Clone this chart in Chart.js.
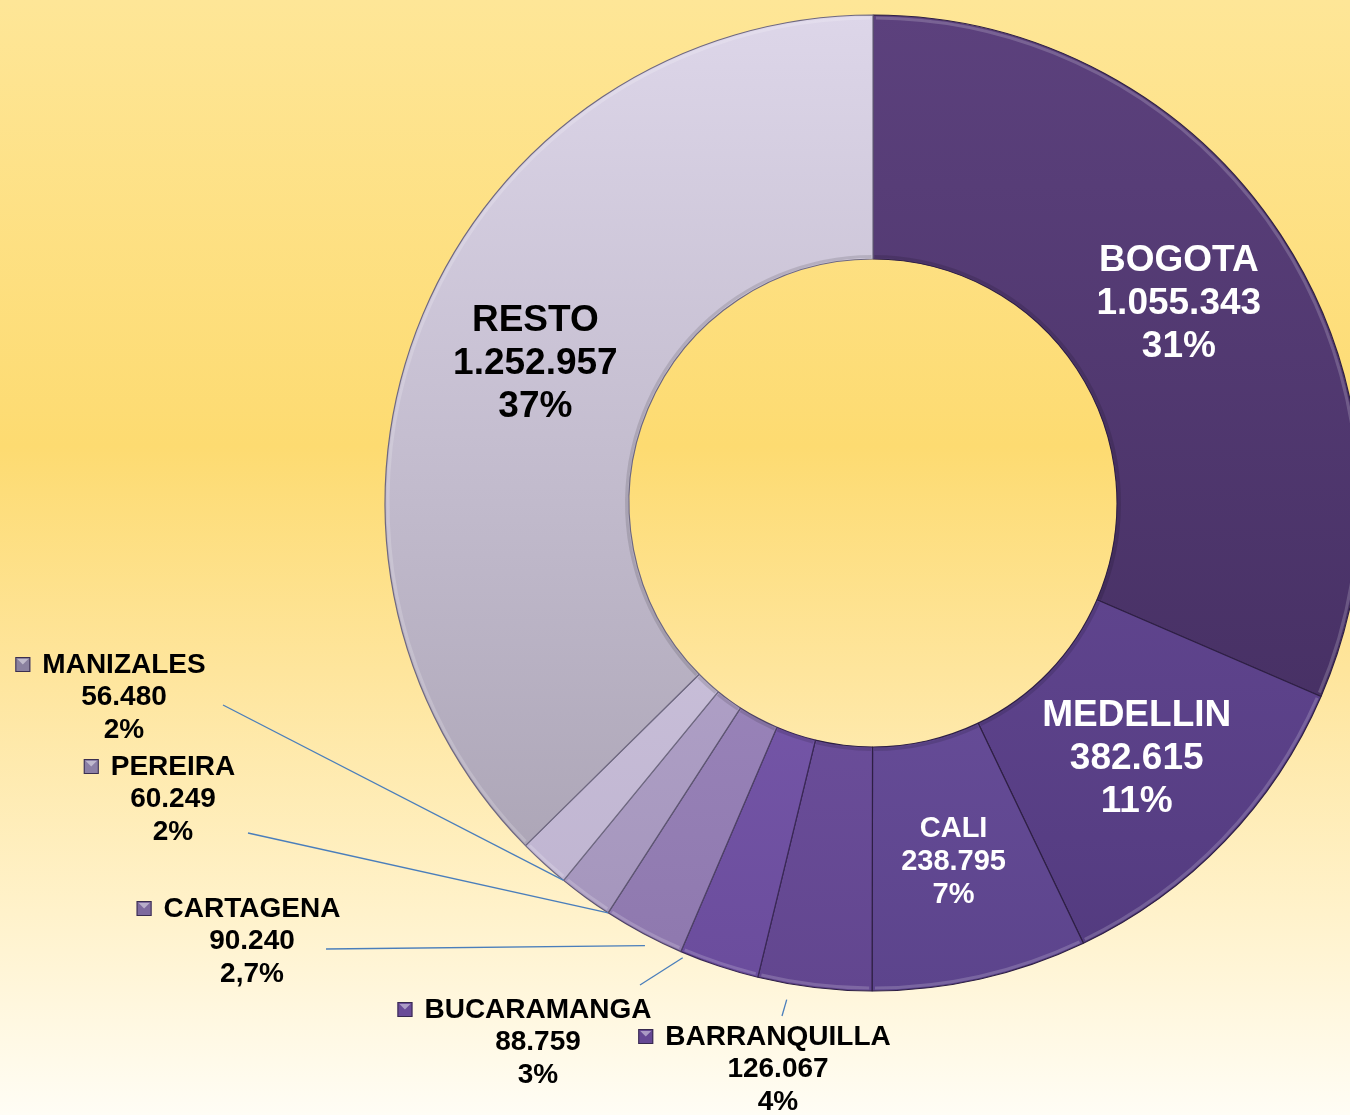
<!DOCTYPE html>
<html><head><meta charset="utf-8">
<script src="https://cdn.jsdelivr.net/npm/chart.js@4"></script>
<style>
html,body{margin:0;padding:0;width:1350px;height:1115px;overflow:hidden;}
body{background:linear-gradient(180deg,#FEE697 0%,#FDDB71 40%,#FEE59C 60%,#FFF2CB 82%,#FFFDF5 100%);}
canvas{display:block;}
</style></head><body>
<canvas id="c" width="1350" height="1115"></canvas>
<script>
// ---- data ----
const categories = ['BOGOTA','MEDELLIN','CALI','BARRANQUILLA','BUCARAMANGA','CARTAGENA','PEREIRA','MANIZALES','RESTO'];
const values = [1055343, 382615, 238795, 126067, 88759, 90240, 60249, 56480, 1252957];
const percentLabels = ['31%','11%','7%','4%','3%','2,7%','2%','2%','37%'];

// ---- styles ----
const topColors    = ['#5C417D','#7253A4','#7C5DB0','#8060B4','#8C6CC0','#B29DD2','#C8B9DE','#DFD7EC','#DDD6E9'];
const bottomColors = ['#3F2A5B','#523A7E','#5C448C','#62468F','#6A4C9C','#8D77AD','#A293BA','#BCB1CE','#A59EAF'];
const borderColors = ['#2E1F44','#2E1F44','#2E1F44','#2E1F44','#3A2856','#4E4266','#5E5672','#6E6880','#6E6880'];
const markerColors = ['#4F3670','#5E4286','#6A4C95','#654894','#6A4C98','#7E6A9E','#8C80A6','#8A819F','#A59EAF'];

// inside labels (placed at arc centroid)
const insideLabels = [
  {i:0, size:37, lh:43, color:'#FFFFFF'},
  {i:1, size:37, lh:43, color:'#FFFFFF'},
  {i:2, size:29, lh:33, color:'#FFFFFF'},
  {i:8, size:37, lh:43, color:'#000000'}
];
// outside labels: text centre x, first line y, leader line start, anchor fraction in slice, radial offset
const outsideLabels = [
  {i:7, cx:124, y:665,  from:[223,705], t:0.0,  dr:0},
  {i:6, cx:173, y:767,  from:[248,833], t:0.0,  dr:0},
  {i:5, cx:252, y:909,  from:[326,949], t:0.42, dr:10},
  {i:4, cx:538, y:1010, from:[640,985], t:0.95, dr:5},
  {i:3, cx:778, y:1037, from:[782,1016], t:0.72, dr:16}
];

function fmt(n){ return String(n).replace(/\B(?=(\d{3})+(?!\d))/g,'.'); }

const FONT = '"Liberation Sans", Arial, sans-serif';

const labelPlugin = {
  id:'labels',
  afterDatasetsDraw(chart){
    const ctx = chart.ctx;
    const meta = chart.getDatasetMeta(0);
    ctx.save();
    ctx.textAlign = 'center';
    ctx.textBaseline = 'middle';
    // inside labels
    insideLabels.forEach(L=>{
      const arc = meta.data[L.i];
      const p = arc.getCenterPoint();
      ctx.fillStyle = L.color;
      ctx.font = 'bold '+L.size+'px '+FONT;
      const lines = [categories[L.i], fmt(values[L.i]), percentLabels[L.i]];
      lines.forEach((s,k)=>ctx.fillText(s, p.x, p.y + 2 + (k-1)*L.lh));
    });
    // outside labels
    outsideLabels.forEach(L=>{
      const arc = meta.data[L.i];
      const a = arc.startAngle + L.t*(arc.endAngle-arc.startAngle);
      const r = arc.outerRadius + L.dr;
      const ex = arc.x + r*Math.cos(a), ey = arc.y + r*Math.sin(a);
      ctx.strokeStyle = '#4A7EBB';
      ctx.lineWidth = 1.3;
      ctx.beginPath(); ctx.moveTo(L.from[0], L.from[1]); ctx.lineTo(ex, ey); ctx.stroke();

      ctx.font = 'bold 28px '+FONT;
      ctx.fillStyle = '#000';
      const lines = [categories[L.i], fmt(values[L.i]), percentLabels[L.i]];
      lines.forEach((s,k)=>ctx.fillText(s, L.cx, L.y + k*32.5));
      // legend key
      const w = ctx.measureText(categories[L.i]).width;
      const S = 15;
      const kx = L.cx - w/2 - 12 - S, ky = L.y - 8;
      ctx.fillStyle = markerColors[L.i];
      ctx.fillRect(kx, ky, S, S);
      ctx.fillStyle = 'rgba(255,255,255,0.45)';
      ctx.beginPath(); ctx.moveTo(kx+2,ky+2); ctx.lineTo(kx+S-2,ky+2); ctx.lineTo(kx+S/2,ky+S/2); ctx.closePath(); ctx.fill();
      ctx.strokeStyle = 'rgba(50,38,70,0.9)'; ctx.lineWidth = 1;
      ctx.strokeRect(kx+0.5, ky+0.5, S-1, S-1);
    });
    ctx.restore();
  }
};

// soft bevel highlight along the outer/inner rims
const bevelPlugin = {
  id:'bevel',
  afterDatasetsDraw(chart){
    const ctx = chart.ctx;
    const meta = chart.getDatasetMeta(0);
    ctx.save();
    meta.data.forEach(arc=>{
      ctx.strokeStyle = 'rgba(255,255,255,0.18)';
      ctx.lineWidth = 3;
      ctx.beginPath();
      ctx.arc(arc.x, arc.y, arc.outerRadius-3, arc.startAngle+0.006, arc.endAngle-0.006);
      ctx.stroke();
      ctx.strokeStyle = 'rgba(0,0,0,0.12)';
      ctx.beginPath();
      ctx.arc(arc.x, arc.y, arc.innerRadius+2.5, arc.startAngle+0.006, arc.endAngle-0.006);
      ctx.stroke();
    });
    ctx.restore();
  }
};

new Chart(document.getElementById('c'), {
  type:'doughnut',
  data:{
    labels: categories,
    datasets:[{
      data: values,
      backgroundColor(c){
        const ch = c.chart, area = ch.chartArea;
        if(!area) return topColors[c.dataIndex];
        const cy = (area.top+area.bottom)/2;
        const g = ch.ctx.createLinearGradient(0, cy-488, 0, cy+488);
        g.addColorStop(0, topColors[c.dataIndex]);
        g.addColorStop(1, bottomColors[c.dataIndex]);
        return g;
      },
      borderColor: borderColors,
      borderWidth: 1.2,
      radius: 488,
      cutout: '50%'
    }]
  },
  options:{
    responsive:false,
    animation:false,
    layout:{padding:{left:396, right:0, top:15, bottom:124}},
    plugins:{legend:{display:false}, tooltip:{enabled:false}}
  },
  plugins:[bevelPlugin, labelPlugin]
});
</script>
</body></html>
